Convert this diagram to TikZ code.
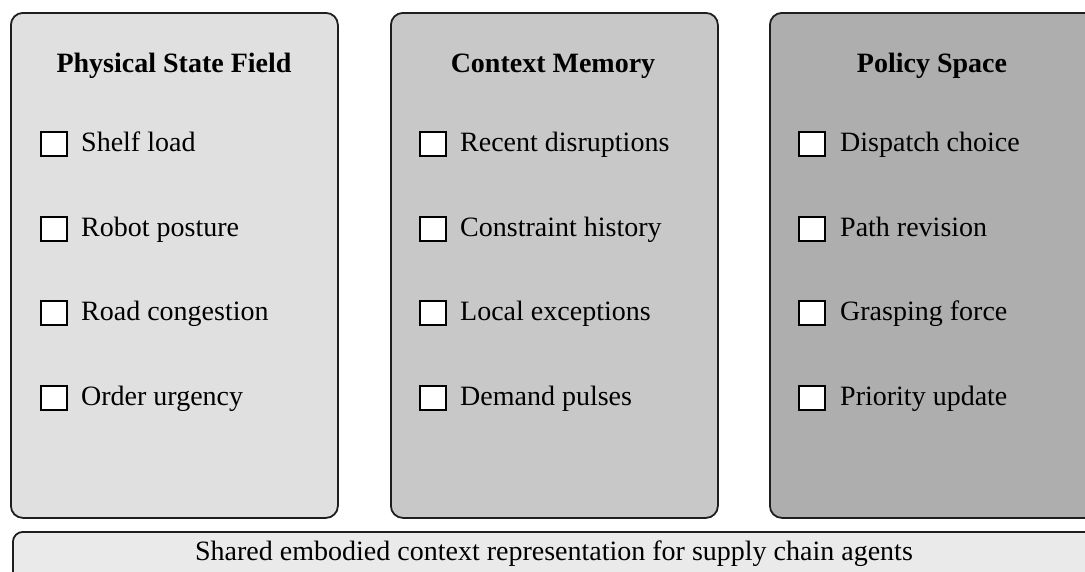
\documentclass[tikz,border=0pt]{standalone}
\usepackage{fontspec}
\setmainfont{Liberation Serif}
\usetikzlibrary{positioning}

\definecolor{fieldgray}{HTML}{E0E0E0}
\definecolor{memgray}{HTML}{C8C8C8}
\definecolor{policygray}{HTML}{AEAEAE}
\definecolor{basegray}{HTML}{EAEAEA}
\definecolor{edgegray}{HTML}{1E1E1E}

\tikzset{
  panel/.style={draw=edgegray, line width=1.8pt, rounded corners=12pt,
    minimum width=327pt, minimum height=505pt, anchor=north west, inner sep=0pt},
  title/.style={font=\bfseries\fontsize{28}{34}\selectfont, anchor=base},
  tickbox/.style={draw=black, fill=white, line width=1.4pt,
    minimum width=26pt, minimum height=24pt, inner sep=0pt},
  entry/.style={font=\fontsize{28}{34}\selectfont, anchor=base west, inner sep=0pt},
}

\begin{document}
\begin{tikzpicture}[x=1pt,y=-1pt]
    \useasboundingbox (0,0) rectangle (1085,571);

        % three panels
        \node[panel, fill=fieldgray] (field) at (10,12) {};
        \node[panel, fill=memgray] (memory) at (390,12) {};
        \node[panel, fill=policygray] (policy) at (769,12) {};

        \node[title] (fieldtitle) at (174,72) {Physical State Field};
        \node[title] (memorytitle) at (553,72) {Context Memory};
        \node[title] (policytitle) at (932,72) {Policy Space};

        % physical state field
        \node[tickbox] (f1b) at (54,144) {};
        \node[entry] (f1) at (81,151) {Shelf load};
        \node[tickbox] (f2b) at (54,229) {};
        \node[entry] (f2) at (81,236) {Robot posture};
        \node[tickbox] (f3b) at (54,313) {};
        \node[entry] (f3) at (81,320) {Road congestion};
        \node[tickbox] (f4b) at (54,398) {};
        \node[entry] (f4) at (81,405) {Order urgency};

        % context memory
        \node[tickbox] (m1b) at (433,144) {};
        \node[entry] (m1) at (460,151) {Recent disruptions};
        \node[tickbox] (m2b) at (433,229) {};
        \node[entry] (m2) at (460,236) {Constraint history};
        \node[tickbox] (m3b) at (433,313) {};
        \node[entry] (m3) at (460,320) {Local exceptions};
        \node[tickbox] (m4b) at (433,398) {};
        \node[entry] (m4) at (460,405) {Demand pulses};

        % policy space
        \node[tickbox] (p1b) at (812,144) {};
        \node[entry] (p1) at (840,151) {Dispatch choice};
        \node[tickbox] (p2b) at (812,229) {};
        \node[entry] (p2) at (840,236) {Path revision};
        \node[tickbox] (p3b) at (812,313) {};
        \node[entry] (p3) at (840,320) {Grasping force};
        \node[tickbox] (p4b) at (812,398) {};
        \node[entry] (p4) at (840,405) {Priority update};

        % shared base
        \node[draw=edgegray, line width=1.8pt, rounded corners=10pt, fill=basegray,
          minimum width=1084pt, minimum height=60pt, anchor=north west, inner sep=0pt] (base) at (12,531) {};
        \node[anchor=base, font=\fontsize{28}{34}\selectfont] (basetext) at (554,560)
          {Shared embodied context representation for supply chain agents};
    \end{tikzpicture}
\end{document}
